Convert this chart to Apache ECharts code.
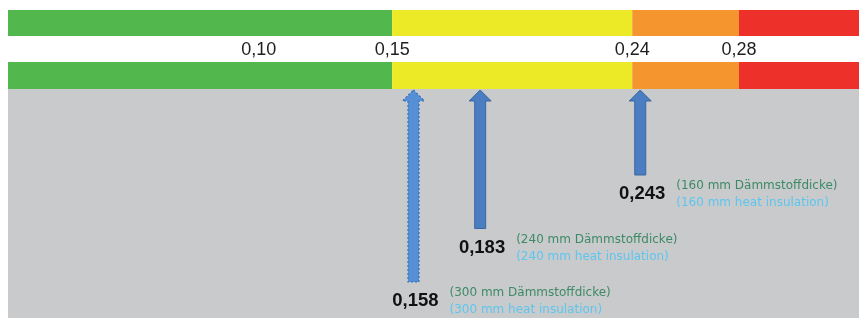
<!DOCTYPE html>
<html>
<head>
<meta charset="utf-8">
<script src="https://cdn.jsdelivr.net/npm/echarts@6/dist/echarts.min.js"></script>
<style>
  html, body { margin: 0; padding: 0; background: #ffffff; }
  #chart { width: 859px; height: 318px; }
</style>
</head>
<body>
<div id="chart"></div>
<script>
// ---- data ----
const scaleMin = 0.006;
const scaleMax = 0.325;
const bandStart = [0.006, 0.15, 0.24, 0.28];
const bandEnd = [0.15, 0.24, 0.28, 0.325];
const tickValues = [0.10, 0.15, 0.24, 0.28];
const uValues = [0.158, 0.183, 0.243];
const notesDe = ['(300 mm Dämmstoffdicke)', '(240 mm Dämmstoffdicke)', '(160 mm Dämmstoffdicke)'];
const notesEn = ['(300 mm heat insulation)', '(240 mm heat insulation)', '(160 mm heat insulation)'];

// ---- styles / layout ----
const bandColors = ['#52b74d', '#ece927', '#f5952d', '#ee302b'];
const arrowDashed = [true, false, false];
const fmt = v => v.toFixed(3).replace('.', ',');

const chart = echarts.init(document.getElementById('chart'), null, { renderer: 'canvas' });

const bandData = bandStart.map((s, i) => [s, bandEnd[i]]);
const arrowData = uValues.map(v => [v, 0]);

chart.setOption({
  animation: false,
  backgroundColor: '#ffffff',
  graphic: [{
    type: 'rect', z: 0,
    shape: { x: 8, y: 89, width: 851, height: 229 },
    style: { fill: '#c9cacc' }
  }],
  grid: { left: 8, right: 0, top: 10, bottom: 0 },
  xAxis: {
    type: 'value', min: scaleMin, max: scaleMax, position: 'top',
    axisLine: { show: false }, axisTick: { show: false }, splitLine: { show: false },
    axisLabel: {
      customValues: tickValues, inside: true, margin: 31,
      formatter: v => v.toFixed(2).replace('.', ','),
      fontFamily: 'Liberation Sans, Arial, sans-serif', fontSize: 18, color: '#1e1e1e'
    }
  },
  yAxis: { type: 'value', min: 0, max: 1, show: false },
  series: [
    {
      type: 'custom', z: 2, silent: true,
      data: bandData,
      renderItem: (params, api) => {
        const x1 = api.coord([api.value(0), 0])[0];
        const x2 = api.coord([api.value(1), 0])[0];
        const c = bandColors[params.dataIndex];
        return {
          type: 'group', children: [
            { type: 'rect', shape: { x: x1, y: 10, width: x2 - x1, height: 26 }, style: { fill: c } },
            { type: 'rect', shape: { x: x1, y: 62, width: x2 - x1, height: 27 }, style: { fill: c } }
          ]
        };
      }
    },
    {
      type: 'custom', z: 3, silent: true,
      data: arrowData,
      renderItem: (params, api) => {
        const i = params.dataIndex;
        const v = api.value(0);
        const x = api.coord([v, 0])[0];
        const tip = 90, headH = 11, headW = 22, shaftW = 11;
        const tail = 282 - i * 53.5;
        const pts = [
          [x, tip], [x + headW / 2, tip + headH], [x + shaftW / 2, tip + headH],
          [x + shaftW / 2, tail], [x - shaftW / 2, tail], [x - shaftW / 2, tip + headH],
          [x - headW / 2, tip + headH]
        ];
        const dashed = arrowDashed[i];
        const font = 'Liberation Sans, Arial, sans-serif';
        return {
          type: 'group', children: [
            {
              type: 'polygon', shape: { points: pts },
              style: dashed
                ? { fill: '#5590d6', stroke: '#3a6fb5', lineWidth: 1.2, lineDash: [2, 2] }
                : { fill: '#4a7dc2', stroke: '#3b679f', lineWidth: 1 }
            },
            {
              type: 'text', x: x + 25, y: tail + 19,
              style: { text: fmt(v), align: 'right', verticalAlign: 'middle',
                       font: 'bold 18.5px ' + font, fill: '#111111' }
            },
            {
              type: 'text', x: x + 36, y: tail + 11,
              style: { text: notesDe[i], align: 'left', verticalAlign: 'middle',
                       font: '12px DejaVu Sans, sans-serif', fill: '#3d8a66' }
            },
            {
              type: 'text', x: x + 36, y: tail + 28,
              style: { text: notesEn[i], align: 'left', verticalAlign: 'middle',
                       font: '12px DejaVu Sans, sans-serif', fill: '#5cc6ef' }
            }
          ]
        };
      }
    }
  ]
});
</script>
</body>
</html>
